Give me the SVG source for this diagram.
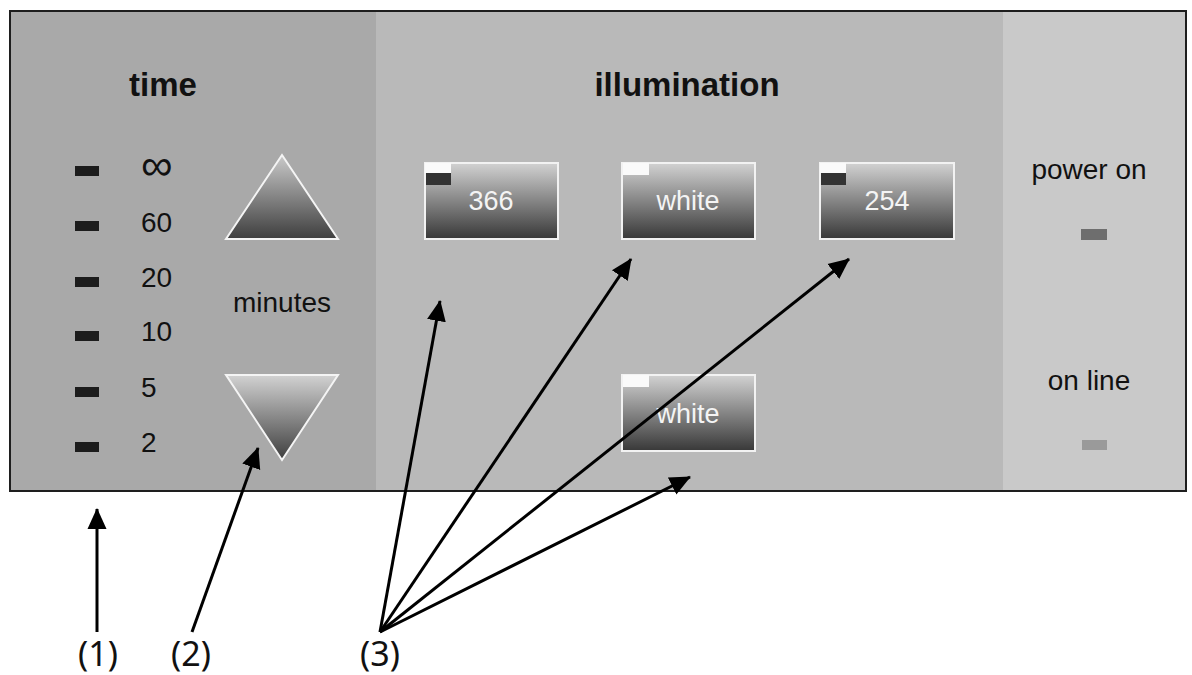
<svg xmlns="http://www.w3.org/2000/svg" width="1192" height="675" viewBox="0 0 1192 675">
<style>
.t{font-family:"Liberation Sans",Arial,sans-serif;fill:#111}
.h{font-size:33px;font-weight:bold}
.r{font-size:28px}
.bt{font-family:"Liberation Sans",Arial,sans-serif;font-size:27px;fill:#f4f4f4;text-anchor:middle}
.tick{fill:#1c1c1c}
.box{fill:url(#gBox);stroke:#f2f2f2;stroke-width:2}
.tabw{fill:#fafafa}
.tabd{fill:#333}
.tri{stroke:#f4f4f4;stroke-width:2}
.lab{font-family:"Noto Sans","Open Sans",sans-serif;font-size:34px;fill:#111;text-anchor:middle}
.arr{stroke:#000;stroke-width:3;fill:none;marker-end:url(#ah)}
</style>
<defs>
<linearGradient id="gBox" x1="0" y1="0" x2="0" y2="1">
<stop offset="0" stop-color="#d2d2d2"/>
<stop offset="1" stop-color="#383838"/>
</linearGradient>
<linearGradient id="gUp" x1="0" y1="0" x2="0" y2="1">
<stop offset="0" stop-color="#cacaca"/>
<stop offset="1" stop-color="#3e3e3e"/>
</linearGradient>
<linearGradient id="gDn" x1="0" y1="0" x2="0" y2="1">
<stop offset="0" stop-color="#d2d2d2"/>
<stop offset="1" stop-color="#3e3e3e"/>
</linearGradient>
<marker id="ah" markerUnits="userSpaceOnUse" markerWidth="22" markerHeight="22" viewBox="0 0 22 22" refX="20" refY="11" orient="auto">
<path d="M0,1.5 L21,11 L0,20.5 Z" fill="#000"/>
</marker>
</defs>
<rect x="0" y="0" width="1192" height="675" fill="#fff"/>
<g id="panel">
<rect x="10" y="11" width="366" height="480" fill="#a9a9a9"/>
<rect x="376" y="11" width="627" height="480" fill="#b9b9b9"/>
<rect x="1003" y="11" width="183" height="480" fill="#c9c9c9"/>
<rect x="10" y="11" width="1176" height="480" fill="none" stroke="#1e1e1e" stroke-width="2"/>
</g>
<g id="time">
<text class="t h" x="163" y="96" text-anchor="middle">time</text>
<rect class="tick" x="75" y="166" width="24" height="10"/>
<rect class="tick" x="75" y="221" width="24" height="10"/>
<rect class="tick" x="75" y="277" width="24" height="10"/>
<rect class="tick" x="75" y="331" width="24" height="10"/>
<rect class="tick" x="75" y="387" width="24" height="10"/>
<rect class="tick" x="75" y="442" width="24" height="10"/>
<text class="t" x="141" y="180" style="font-size:44px">∞</text>
<text class="t r" x="141" y="232">60</text>
<text class="t r" x="141" y="287">20</text>
<text class="t r" x="141" y="341">10</text>
<text class="t r" x="141" y="397">5</text>
<text class="t r" x="141" y="452">2</text>
</g>
<g id="minutes">
<polygon class="tri" points="282,155 338,239 226,239" fill="url(#gUp)"/>
<text class="t r" x="282" y="312" text-anchor="middle">minutes</text>
<polygon class="tri" points="226,375 338,375 282,460" fill="url(#gDn)"/>
</g>
<g id="illumination">
<text class="t h" x="687" y="96" text-anchor="middle">illumination</text>
</g>
<g id="box366">
<rect class="box" x="425" y="163" width="133" height="76"/>
<rect class="tabw" x="425" y="163" width="26" height="10"/>
<rect class="tabd" x="426" y="173" width="25" height="12"/>
<text class="bt" x="491" y="210">366</text>
</g>
<g id="boxWhite1">
<rect class="box" x="622" y="163" width="133" height="76"/>
<rect class="tabw" x="623" y="163" width="26" height="12"/>
<text class="bt" x="688" y="210">white</text>
</g>
<g id="box254">
<rect class="box" x="820" y="163" width="134" height="76"/>
<rect class="tabw" x="820" y="163" width="26" height="10"/>
<rect class="tabd" x="821" y="173" width="25" height="12"/>
<text class="bt" x="887" y="210">254</text>
</g>
<g id="boxWhite2">
<rect class="box" x="622" y="375" width="133" height="76"/>
<rect class="tabw" x="623" y="375" width="26" height="12"/>
<text class="bt" x="688" y="423">white</text>
</g>
<g id="status">
<text class="t r" x="1089" y="179" text-anchor="middle">power on</text>
<rect x="1081" y="229" width="26" height="11" fill="#6e6e6e"/>
<text class="t r" x="1089" y="390" text-anchor="middle">on line</text>
<rect x="1082" y="440" width="25" height="10" fill="#9a9a9a"/>
</g>
<g id="connectors">
<line class="arr" x1="97" y1="632" x2="97" y2="509"/>
<line class="arr" x1="192" y1="632" x2="258" y2="448"/>
<line class="arr" x1="380" y1="632" x2="440" y2="301"/>
<line class="arr" x1="380" y1="632" x2="631" y2="259"/>
<line class="arr" x1="380" y1="632" x2="849" y2="259"/>
<line class="arr" x1="380" y1="632" x2="690" y2="477"/>
</g>
<g id="labels">
<text class="lab" x="98" y="666">(1)</text>
<text class="lab" x="191" y="666">(2)</text>
<text class="lab" x="380" y="666">(3)</text>
</g>
</svg>
